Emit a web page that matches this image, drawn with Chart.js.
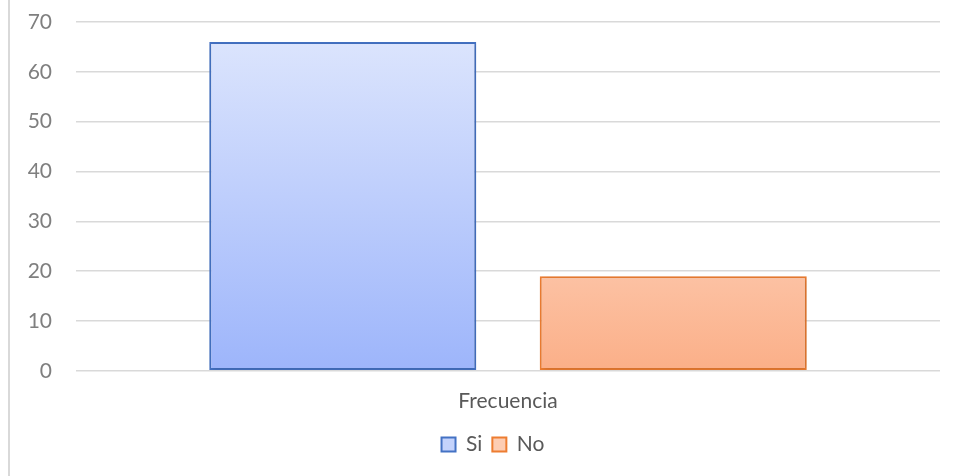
<!DOCTYPE html>
<html>
<head>
<meta charset="utf-8">
<script src="https://cdn.jsdelivr.net/npm/chart.js@4.4.0/dist/chart.umd.min.js"></script>
<style>
    html, body { margin: 0; padding: 0; background: #fff; }
    #wrap { position: relative; width: 956px; height: 476px; }
    #wrap::before { content: ''; position: absolute; left: 8px; top: 0; bottom: 0; width: 2px; background: #d9d9d9; }
</style>
</head>
<body>
<div id="wrap"><canvas id="myChart" width="956" height="476"></canvas></div>
<script>
const categories = ['Frecuencia'];
const seriesNames = ['Si', 'No'];
const siValues = [66];
const noValues = [19];
const yTicks = [0, 10, 20, 30, 40, 50, 60, 70];

// vertical gradient for each bar, light at the top and darker at the base
function gradient(ctx, top, bottom) {
    const chart = ctx.chart;
    const area = chart.chartArea;
    if (!area) return bottom;
    const g = chart.ctx.createLinearGradient(0, area.top, 0, area.bottom);
    g.addColorStop(0, top);
    g.addColorStop(1, bottom);
    return g;
}

// soft grey shadow behind the bars
const barShadow = {
    id: 'barShadow',
    beforeDatasetsDraw(chart) {
        const c = chart.ctx;
        c.save();
        c.shadowColor = 'rgba(0,0,0,0.18)';
        c.shadowBlur = 5;
        c.shadowOffsetX = 1;
        c.shadowOffsetY = 1;
    },
    afterDatasetsDraw(chart) {
        chart.ctx.restore();
    }
};

// nudge the legend a little to the right of centre
const legendShift = {
    id: 'legendShift',
    afterLayout(chart) {
        chart.legend.left += 18;
        chart.legend.right += 18;
    }
};

const font = { family: 'Lato', size: 21 };

const data = {
    labels: categories,
    datasets: [{
        label: seriesNames[0],
        data: siValues,
        backgroundColor: ctx => gradient(ctx, '#dfe7fd', '#9db5fb'),
        borderColor: '#4472c4',
        borderWidth: 2,
        borderSkipped: false,
        barPercentage: 0.808,
        categoryPercentage: 0.765
    }, {
        label: seriesNames[1],
        data: noValues,
        backgroundColor: ctx => gradient(ctx, '#fff3ec', '#fbaf88'),
        borderColor: '#ed7d31',
        borderWidth: 2,
        borderSkipped: false,
        barPercentage: 0.808,
        categoryPercentage: 0.765
    }]
};

const config = {
    type: 'bar',
    data: data,
    plugins: [barShadow, legendShift],
    options: {
        responsive: false,
        animation: false,
        layout: { padding: { top: 22, right: 16, left: 10, bottom: 11 } },
        plugins: {
            legend: {
                position: 'bottom',
                labels: {
                    boxWidth: 14,
                    boxHeight: 14,
                    padding: 10,
                    color: '#595959',
                    font: font,
                    generateLabels(chart) {
                        return chart.data.datasets.map((ds, i) => ({
                            text: ds.label,
                            fillStyle: i === 0 ? '#c4d3fc' : '#fdcdb3',
                            strokeStyle: ds.borderColor,
                            lineWidth: 2,
                            datasetIndex: i,
                            fontColor: '#595959'
                        }));
                    }
                }
            },
            tooltip: { enabled: false }
        },
        scales: {
            x: {
                grid: { display: false },
                border: { display: false },
                ticks: { color: '#595959', padding: 10, font: font }
            },
            y: {
                min: 0,
                max: 70,
                afterBuildTicks(scale) {
                    scale.ticks = yTicks.map(v => ({ value: v }));
                },
                afterFit(scale) {
                    scale.width = 66;
                    scale.paddingTop = 0;
                },
                grid: { color: '#d9d9d9', lineWidth: 1.5, drawTicks: false },
                border: { display: false },
                ticks: { color: '#7f7f7f', padding: 24, font: font }
            }
        }
    }
};

window.onload = function () {
    const ctx = document.getElementById('myChart').getContext('2d');
    new Chart(ctx, config);
};
</script>
</body>
</html>
